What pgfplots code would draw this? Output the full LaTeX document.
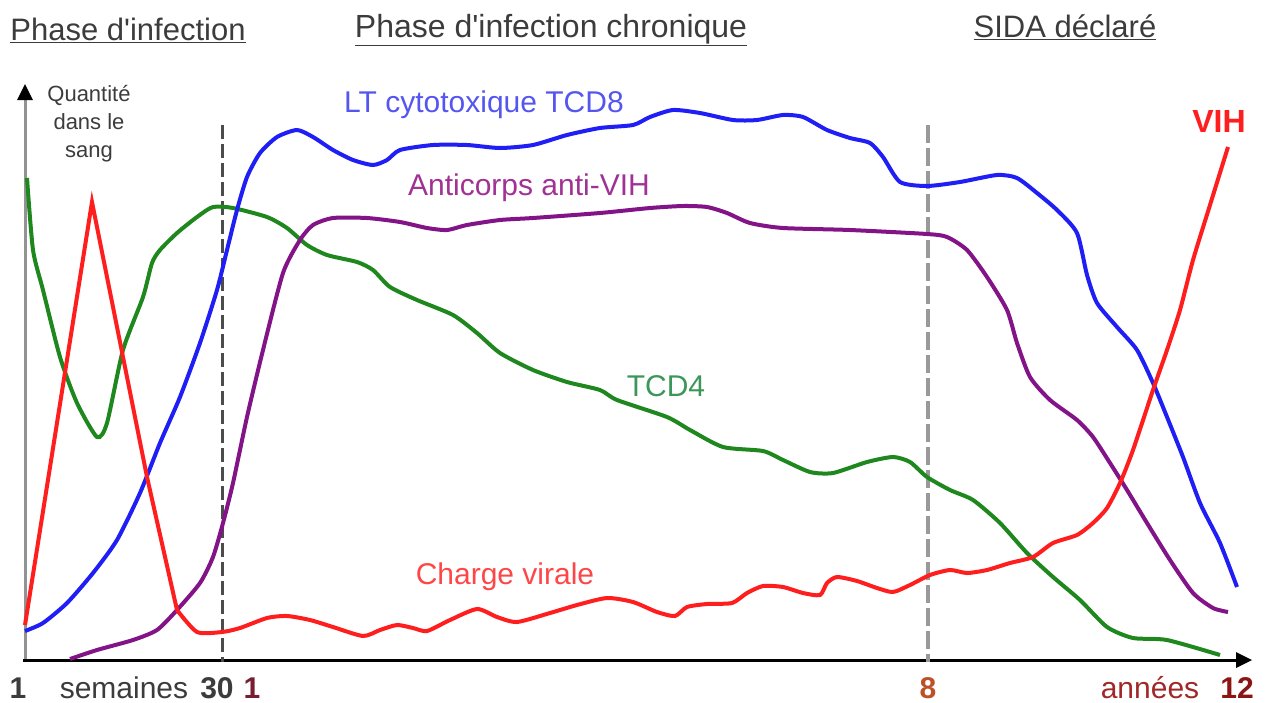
\documentclass[border=0pt]{standalone}
\usepackage{pgfplots}
\pgfplotsset{compat=1.18}
\usepackage{fontspec}
\setmainfont{Liberation Sans}
\usetikzlibrary{arrows.meta}
\definecolor{cBlue}{RGB}{30,30,245}
\definecolor{cRed}{RGB}{255,30,30}
\definecolor{cGreen}{RGB}{30,135,30}
\definecolor{cPurple}{RGB}{130,20,135}
\definecolor{tBlue}{RGB}{85,85,240}
\definecolor{tPurple}{RGB}{160,50,150}
\definecolor{tGreen}{RGB}{60,150,90}
\definecolor{tRed}{RGB}{255,70,70}
\definecolor{tGray}{RGB}{60,60,60}
\begin{document}
\begin{tikzpicture}
\begin{axis}[width=1266pt,height=702pt,scale only axis,
  xmin=0,xmax=1266,ymin=0,ymax=702,y dir=reverse,hide axis,clip=false]
\path (axis cs:0,0) (axis cs:1266,702);
% axes
\draw[line width=3pt,color=gray!85] (axis cs:25,662) -- (axis cs:25,100);
\draw[line width=3pt,black] (axis cs:23,660) -- (axis cs:1238,660);
\fill[black] (axis cs:17,100) -- (axis cs:33,100) -- (axis cs:25,84) -- cycle;
\fill[black] (axis cs:1236,652) -- (axis cs:1236,668) -- (axis cs:1252,660) -- cycle;
% dashed separators
\draw[line width=3pt,color=black!70,dash pattern=on 14pt off 5pt] (axis cs:222,125) -- (axis cs:222,662);
\draw[line width=4pt,color=black!40,dash pattern=on 18pt off 5pt] (axis cs:928,125) -- (axis cs:928,662);
% TCD4
\addplot[cGreen,line width=4pt,smooth,tension=0.4] coordinates {
(27,178)(33,250)(43,290)(60,357)(77,403)(97,437)(107,423)(123,350)(143,297)(152,263)(160,250)(177,233)(197,217)(213,207)(233,208)(267,217)(287,228)(307,245)(327,255)(357,262)(373,270)(390,287)(417,300)(453,315)(477,333)(500,353)(533,370)(567,382)(600,390)(617,400)(667,417)(690,430)(723,447)(763,451)(783,460)(810,472)(833,473)(867,462)(893,457)(910,462)(927,477)(950,490)(973,500)(1000,523)(1027,553)(1053,577)(1080,600)(1107,627)(1133,638)(1167,640)(1220,655)};
% Anticorps
\addplot[cPurple,line width=4pt,smooth,tension=0.4] coordinates {
(70,659)(97,650)(133,640)(157,630)(177,610)(200,583)(213,557)(223,523)(233,483)(247,417)(263,350)(283,273)(300,240)(313,225)(333,218)(367,218)(400,222)(427,228)(447,230)(467,225)(500,220)(533,218)(600,213)(650,208)(683,206)(707,207)(727,213)(750,223)(783,228)(850,230)(927,234)(947,237)(967,250)(987,277)(1007,310)(1017,343)(1030,377)(1050,400)(1077,420)(1093,437)(1110,463)(1127,490)(1147,523)(1170,560)(1193,593)(1213,608)(1228,612)};
% TCD8
\addplot[cBlue,line width=4pt,smooth,tension=0.4] coordinates {
(25,631)(43,623)(67,603)(93,573)(117,540)(140,493)(160,443)(180,397)(200,343)(217,290)(227,250)(237,210)(247,177)(260,153)(277,137)(297,130)(313,137)(333,150)(353,160)(373,165)(387,160)(400,150)(433,145)(467,145)(500,148)(533,145)(567,135)(600,128)(633,125)(650,117)(673,110)(700,113)(733,120)(757,120)(783,115)(803,117)(827,130)(850,138)(870,143)(883,157)(900,182)(927,186)(960,182)(997,175)(1017,178)(1037,193)(1057,210)(1077,233)(1087,275)(1097,303)(1117,327)(1137,350)(1153,383)(1167,417)(1183,457)(1200,503)(1220,543)(1237,587)};
% Charge virale / VIH
\addplot[cRed,line width=4pt] coordinates {(25,625)(92,202)(147,477)(177,610)};
\addplot[cRed,line width=4pt,smooth,tension=0.4] coordinates {
(177,610)(197,632)(222,632)(240,628)(267,618)(287,616)(310,620)(333,627)(363,636)(380,630)(397,625)(413,628)(427,631)(450,620)(477,609)(497,617)(517,622)(550,613)(577,605)(607,598)(633,602)(657,612)(675,616)(687,607)(707,604)(732,603)(747,593)(763,586)(783,587)(803,593)(820,595)(827,583)(837,577)(857,581)(877,588)(893,592)(910,585)(930,575)(950,570)(967,573)(987,570)(1010,563)(1033,557)(1053,543)(1077,535)(1093,523)(1107,508)(1120,483)(1133,450)(1153,390)(1167,350)(1180,310)(1193,260)(1210,205)(1228,147)};
% titles
\node[tGray,anchor=base,font=\fontsize{31}{34}\selectfont] at (axis cs:128,40) {\underline{Phase d\textquotesingle infection}};
\node[tGray,anchor=base,font=\fontsize{32}{34}\selectfont] at (axis cs:551,37) {\underline{Phase d\textquotesingle infection chronique}};
\node[tGray,anchor=base,font=\fontsize{31}{34}\selectfont] at (axis cs:1065,37) {\underline{SIDA déclaré}};
\node[tGray,font=\fontsize{22}{28}\selectfont,align=center] at (axis cs:89,124) {Quantité\\dans le\\sang};
% curve labels
\node[tBlue,font=\fontsize{30}{34}\selectfont] at (axis cs:484,105) {LT cytotoxique TCD8};
\node[tPurple,font=\fontsize{30}{34}\selectfont] at (axis cs:529,188) {Anticorps anti-VIH};
\node[tGreen,font=\fontsize{30}{34}\selectfont] at (axis cs:666,386) {TCD4};
\node[tRed,font=\fontsize{30}{34}\selectfont] at (axis cs:505,577) {Charge virale};
\node[cRed,font=\fontsize{32}{36}\selectfont\bfseries] at (axis cs:1219,121) {VIH};
% x labels
\node[tGray,anchor=base,font=\fontsize{30}{34}\selectfont\bfseries] at (axis cs:18,698) {1};
\node[tGray,anchor=base,font=\fontsize{30}{34}\selectfont] at (axis cs:124,698) {semaines};
\node[tGray,anchor=base,font=\fontsize{30}{34}\selectfont\bfseries] at (axis cs:217,698) {30};
\node[color={rgb,255:red,120;green,30;blue,50},anchor=base,font=\fontsize{30}{34}\selectfont\bfseries] at (axis cs:252,698) {1};
\node[color={rgb,255:red,190;green,80;blue,40},anchor=base,font=\fontsize{30}{34}\selectfont\bfseries] at (axis cs:928,698) {8};
\node[color={rgb,255:red,160;green,40;blue,40},anchor=base,font=\fontsize{30}{34}\selectfont] at (axis cs:1150,698) {années};
\node[color={rgb,255:red,140;green,20;blue,20},anchor=base,font=\fontsize{30}{34}\selectfont\bfseries] at (axis cs:1237,698) {12};
\end{axis}
\end{tikzpicture}
\end{document}
